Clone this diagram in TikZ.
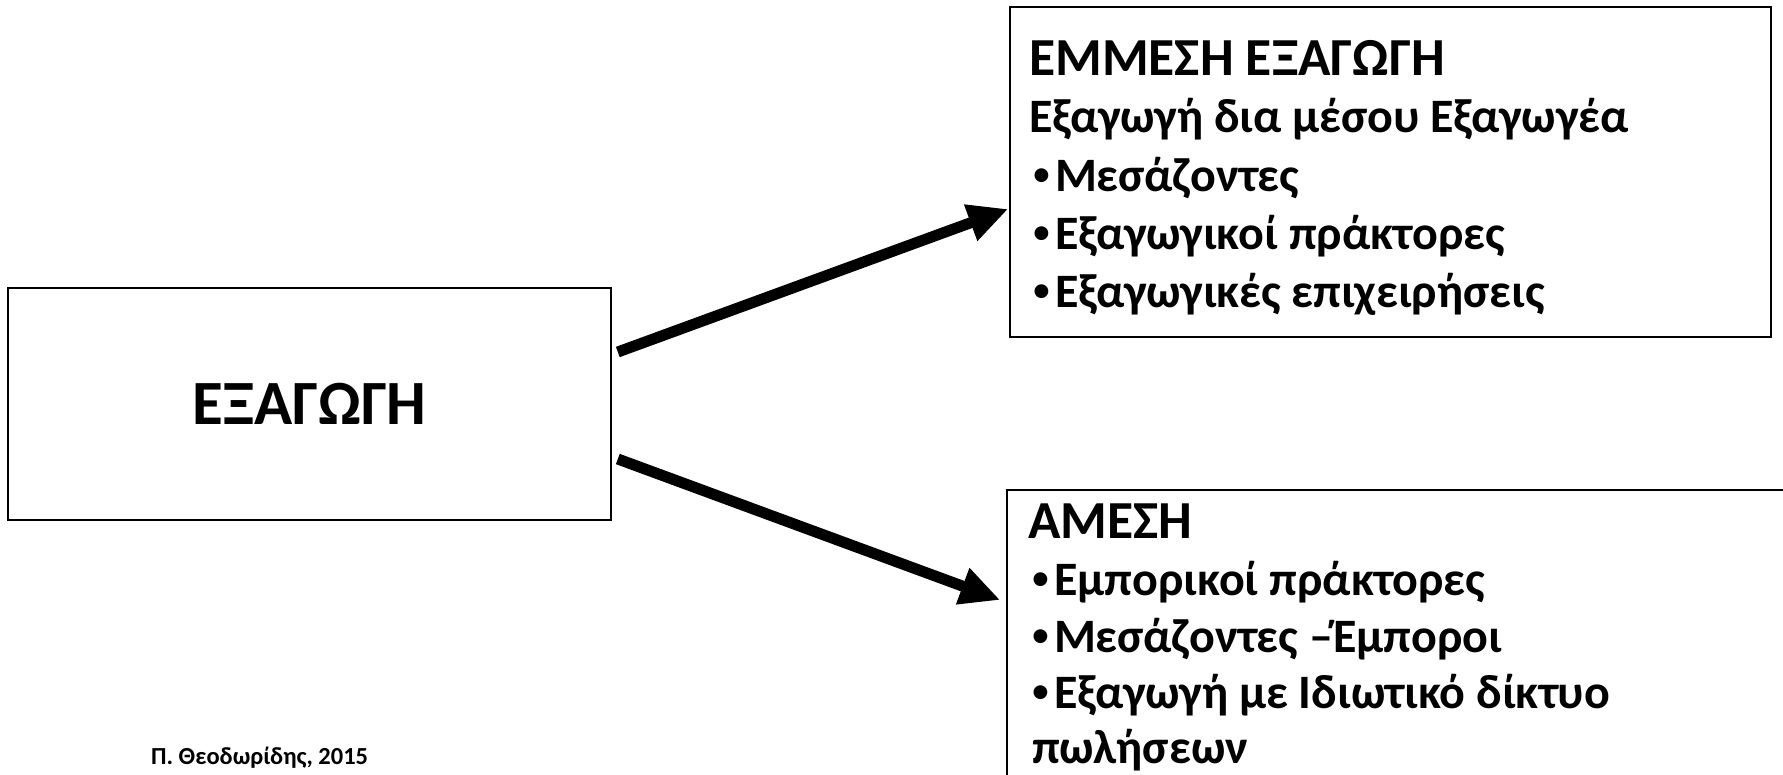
\documentclass[tikz,border=0pt]{standalone}
\usepackage{fontspec}
\setmainfont{Carlito}
\newfontfamily\bulfont{Liberation Sans}
\newcommand{\bul}{{\bulfont\bfseries •}\hspace{5pt}}
\usetikzlibrary{arrows.meta}
\begin{document}
\begin{tikzpicture}[x=1pt,y=-1pt,
  box/.style={draw=black,line width=1.6pt,rectangle,inner sep=0pt},
  big/.style={font=\fontsize{63}{63}\selectfont\bfseries},
  head/.style={font=\fontsize{53.5}{57}\selectfont\bfseries,anchor=base west,inner sep=0pt},
  txt/.style={font=\fontsize{48}{57}\selectfont\bfseries,anchor=base west,inner sep=0pt},
  credit/.style={font=\fontsize{24.5}{30}\selectfont\bfseries,anchor=base west,inner sep=0pt},
  arr/.style={line width=11pt,-{Triangle[length=40pt,width=36pt]}}]
\useasboundingbox (0,0) rectangle (1783,775);
\clip (0,0) rectangle (1783,775);
% boxes
\node[box,big,minimum width=603pt,minimum height=232pt] (L) at (309.5,404) {ΕΞΑΓΩΓΗ};
\node[box,minimum width=761pt,minimum height=330pt] (T) at (1390.5,172) {};
\node[box,minimum width=793pt,minimum height=320pt] (B) at (1403.5,650) {};
% top box text
\node[head] (t1) at (1029,76) {ΕΜΜΕΣΗ ΕΞΑΓΩΓΗ};
\node[txt] (t2) at (1029,133) {Εξαγωγή δια μέσου Εξαγωγέα};
\node[txt] (t3) at (1033,192) {\bul Μεσάζοντες};
\node[txt] (t4) at (1033,250) {\bul Εξαγωγικοί πράκτορες};
\node[txt] (t5) at (1033,308) {\bul Εξαγωγικές επιχειρήσεις};
% bottom box text
\node[head] (b1) at (1028,538) {ΑΜΕΣΗ};
\node[txt] (b2) at (1032,595) {\bul Εμπορικοί πράκτορες};
\node[txt] (b3) at (1032,652) {\bul Μεσάζοντες –Έμποροι};
\node[txt] (b4) at (1032,708) {\bul Εξαγωγή με Ιδιωτικό δίκτυο};
\node[txt] (b5) at (1032,763) {πωλήσεων};
% credit
\node[credit] (c) at (151,764) {Π. Θεοδωρίδης, 2015};
% arrows
\draw[arr] ([shift={(6,-52)}]L.east) -- ([shift={(-1,37)}]T.west);
\draw[arr] ([shift={(6,55)}]L.east) -- ([shift={(-6,-50)}]B.west);
\end{tikzpicture}
\end{document}
